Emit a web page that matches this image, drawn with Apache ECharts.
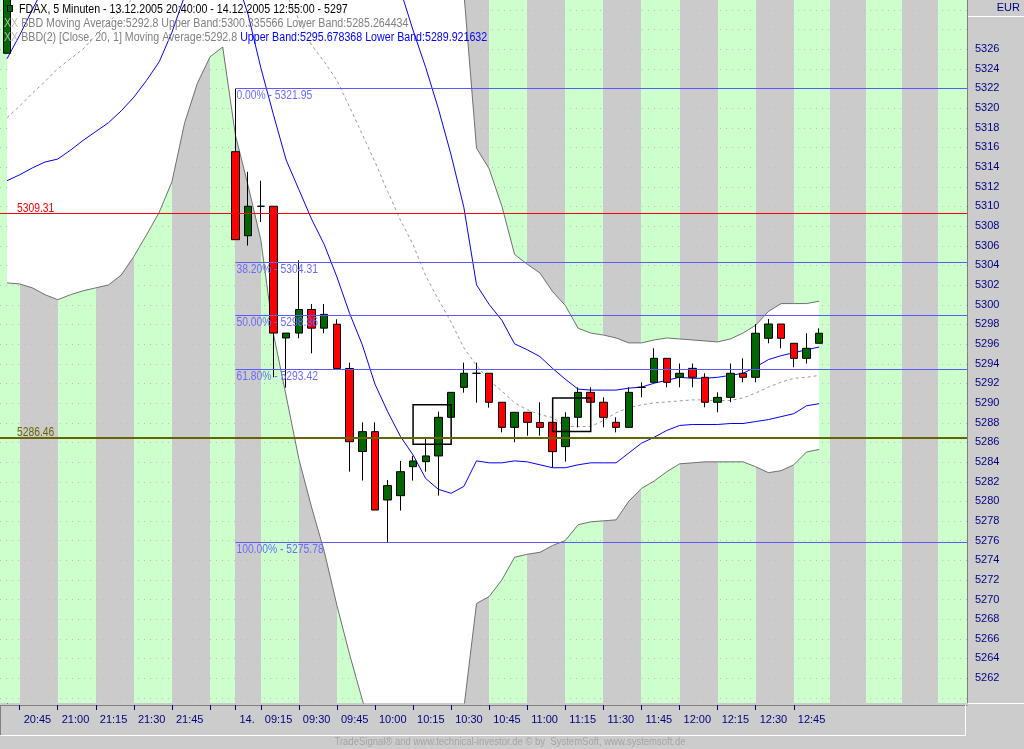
<!DOCTYPE html>
<html>
<head>
<meta charset="utf-8">
<script src="https://cdn.jsdelivr.net/npm/echarts@6/dist/echarts.min.js"></script>
<style>
html,body{margin:0;padding:0;background:#cccccc;overflow:hidden}
#chart{width:1024px;height:749px}
</style>
</head>
<body>
<div id="chart"></div>
<script>
// ---------------- data (bar index 0 = 13.12.2005 20:40, 5-minute bars) ----------------
const barOpen = [5325.56, null,null,null,null,null,null,null,null,null,null,null,null,null,null,null,null,null,
  5315.55,5307.0,5310.0,5310.0,5296.6,5297.1,5299.5,5297.6,5298.0,5293.5,
  5285.05,5287.07,5280.12,5280.56,5283.51,5284.02,5284.6,5288.53,5291.58,5293.01,
  5293.01,5290.06,5287.51,5289.04,5288.0,5288.02,5285.55,5288.53,5291.07,5290.06,
  5288.02,5287.51,5291.58,5292.09,5294.53,5292.6,5293.51,5292.6,5290.06,5290.56,
  5293.01,5292.6,5296.57,5298.02,5296.06,5294.53,5296.06];
const barClose = [5333.0, null,null,null,null,null,null,null,null,null,null,null,null,null,null,null,null,null,
  5306.6,5310.0,5310.0,5297.1,5297.1,5299.5,5297.6,5299.0,5293.5,5286.05,
  5287.07,5279.1,5281.58,5283.0,5284.09,5284.6,5288.53,5291.07,5293.01,5293.01,
  5290.06,5287.51,5289.04,5288.02,5287.51,5285.04,5288.53,5291.07,5290.06,5288.53,
  5287.51,5291.07,5291.58,5294.53,5292.09,5293.01,5292.6,5290.06,5290.56,5293.01,
  5292.6,5297.08,5298.02,5296.57,5294.53,5295.55,5297.08];
const barLow = [5325.56, null,null,null,null,null,null,null,null,null,null,null,null,null,null,null,null,null,
  5306.6,5306.0,5308.4,5292.6,5291.55,5296.57,5295.04,5297.08,5293.5,5283.0,
  5282.1,5279.1,5275.78,5279.04,5282.09,5283.0,5280.56,5288.53,5291.04,5290.02,
  5289.51,5287.0,5285.99,5286.66,5286.66,5283.44,5284.02,5287.51,5290.06,5287.51,
  5287.0,5287.51,5290.56,5292.09,5291.58,5291.58,5291.58,5289.55,5289.04,5290.06,
  5292.09,5292.09,5296.06,5295.55,5293.62,5294.0,5296.06];
const barHigh = [5334.0, null,null,null,null,null,null,null,null,null,null,null,null,null,null,null,null,null,
  5321.95,5313.5,5312.6,5310.0,5297.1,5304.5,5300.06,5300.06,5298.5,5294.09,
  5288.02,5288.02,5282.15,5284.09,5284.6,5286.46,5289.11,5291.07,5294.09,5294.09,
  5293.01,5290.06,5289.04,5289.04,5290.06,5288.02,5289.04,5291.58,5291.58,5290.56,
  5288.53,5291.58,5292.09,5295.55,5294.53,5294.0,5294.0,5293.01,5291.07,5294.0,
  5294.53,5298.02,5298.53,5298.02,5296.06,5297.08,5297.58];

// BBD (outer band, grey outline, white fill)
const outerUpper = [5336,5338,5340.5,5343,5346,5348.5,5350.5,5352.5,5354.5,5356,5357,5357.5,5357.5,5357,5356,5354.5,5353,5352,
  5356,5360,5362,5364,5366,5367,5367.5,5367.5,5367,5366,
  5364,5361,5357,5352,5347,5342,5338,5334.5,5331.8,5315.9,
  5313.8,5310.0,5305.1,5304.1,5303.2,5301.3,5299.9,5297.6,5297.1,5296.9,
  5296.6,5296.1,5296.1,5296.4,5296.6,5296.5,5296.4,5296.3,5296.2,5296.5,
  5297.1,5297.9,5299.3,5300.1,5300.1,5300.1,5300.34];
const outerLower = [5302.2,5302.1,5301.7,5301.0,5300.5,5301.0,5301.4,5301.7,5302.0,5303.0,5304.9,5307.1,5309.4,5312.5,5318.5,5322.5,5325.2,5326.2,
  5317.25,5312.1,5306.6,5297.0,5290.7,5284.3,5279.4,5274.9,5269.4,5264.4,
  5259.8,5255.5,5252.5,5250.5,5249.5,5250.0,5252.0,5255.0,5258.9,5269.6,
  5270.3,5272.0,5274.3,5274.6,5274.8,5275.5,5276.0,5277.6,5277.9,5278.0,
  5278.1,5280.0,5281.3,5282.05,5283.0,5283.8,5283.9,5284.0,5284.0,5284.0,
  5284.0,5283.5,5282.9,5283.1,5283.7,5285.0,5285.26];
const movingAverage = [5319.0,5320.2,5321.5,5322.7,5324.0,5325.0,5326.0,5327.4,5328.7,5330.0,5331.2,5332.4,5333.6,5334.8,5336.0,5337.0,5337.6,5337.8,
  5337.5,5336.6,5335.3,5333.7,5331.6,5329.0,5326.4,5324.7,5322.8,5320.1,
  5317.3,5314.5,5311.5,5308.6,5306.1,5302.9,5300.5,5298.2,5295.6,5293.8,
  5292.3,5291.2,5290.0,5289.3,5288.8,5288.5,5287.6,5287.6,5287.6,5288.2,
  5289.0,5289.5,5289.8,5290.0,5290.1,5290.2,5290.3,5290.3,5290.2,5290.25,
  5290.5,5291.0,5291.6,5292.1,5292.5,5292.6,5292.8];
// BBD(2) [Close, 20, 1] (inner band, blue)
const innerUpper = [5325.0,5327.4,5330.0,5332.5,5334.5,5336.0,5337.5,5339.0,5340.3,5341.5,5342.5,5343.3,5344.0,5344.5,5344.5,5344.0,5343.5,5343.0,
  5342.5,5343.5,5346.0,5348.0,5348.5,5347.5,5345.5,5344.0,5342.5,5341.0,
  5339.5,5337.5,5335.0,5332.0,5327.9,5324.1,5319.9,5315.2,5309.9,5302.0,
  5300.0,5298.4,5296.0,5295.4,5294.7,5293.5,5292.4,5291.4,5291.3,5291.3,
  5291.3,5291.5,5291.6,5292.0,5292.3,5292.6,5292.5,5292.5,5292.6,5292.8,
  5293.0,5293.65,5294.4,5294.8,5295.1,5295.4,5295.68];
const innerLower = [5312.6,5313.2,5313.9,5314.5,5314.8,5315.7,5316.7,5317.6,5318.5,5319.7,5321.1,5322.8,5324.7,5327.7,5331.4,5334.0,5335.5,5336.0,
  5333.5,5329.5,5324.1,5319.3,5314.7,5311.7,5308.7,5306.1,5302.8,5299.1,
  5295.9,5291.9,5289.1,5286.6,5284.7,5282.3,5281.2,5280.8,5281.5,5284.1,
  5283.9,5283.9,5284.1,5284.0,5283.7,5283.4,5283.4,5283.7,5283.9,5283.9,
  5283.9,5284.9,5285.9,5286.5,5287.2,5287.7,5287.8,5287.8,5287.8,5287.9,
  5287.9,5288.1,5288.3,5288.6,5288.9,5289.7,5289.92];

// Fibonacci retracement from the high bar (14.12. first bar) to the low
const fibStartBar = 18;
const fibPct = ['0.00%', '38.20%', '50.00%', '61.80%', '100.00%'];
const fibLevels = [5321.95, 5304.31, 5298.86, 5293.42, 5275.78];
const redLevel = 5309.31;
const oliveLevel = 5286.46;

// drawn rectangles: [fromBar, top, toBar, bottom]
const boxes = [[32, 5289.8, 35, 5285.8], [43, 5290.5, 46, 5287.1]];

// time axis ticks (bar index) and their labels
const tickBars = [1,4,7,10,13,16,18,20,23,26,29,32,35,38,41,44,47,50,53,56,59,62];
const tickLabels = ['20:45','21:00','21:15','21:30','21:45','','14.','09:15','09:30','09:45','10:00','10:15','10:30','10:45','11:00','11:15','11:30','11:45','12:00','12:15','12:30','12:45'];
// quarter-hour background stripes (bar units)
const stripeEdges = [-0.55,1,4,7,10,13,16,18,20,23,26,29,32,35,38,41,44,47,50,53,56,59,62,64.85,67.67,70.5,73.33,75.65];
// price axis
const priceTicks = [5262,5264,5266,5268,5270,5272,5274,5276,5278,5280,5282,5284,5286,5288,5290,5292,5294,5296,5298,5300,5302,5304,5306,5308,5310,5312,5314,5316,5318,5320,5322,5324,5326];
const gridLevels = [5260,5262,5264,5266,5268,5270,5272,5274,5276,5278,5280,5282,5284,5286,5288,5290,5292,5294,5296,5298,5300,5302,5304,5306,5308,5310,5312,5314,5316,5318,5320,5322,5324,5326,5328,5330];

// ---------------- build ----------------
const FONT = '"Liberation Sans", Arial, sans-serif';
const X_MIN = -0.55, X_MAX = 75.65, Y_MIN = 5259.47, Y_MAX = 5330.98;
const STRIPE_COLORS = ['#ccffcc', '#cbcbcb'];
const NARROW = 0.888;

const toXY = arr => arr.map((v, i) => [i, v]);
const stripeData = [];
for (let k = 0; k < stripeEdges.length - 1; k++) stripeData.push([stripeEdges[k], stripeEdges[k + 1], k % 2]);
const candleData = [];
barOpen.forEach((o, i) => { if (o != null) candleData.push([i, o, barClose[i], barLow[i], barHigh[i]]); });
const hlineData = fibLevels.map(v => [fibStartBar, v, 0]).concat([[X_MIN, redLevel, 1], [X_MIN, oliveLevel, 2]]);
const hlineText = fibPct.map((p, k) => p + ' - ' + fibLevels[k].toFixed(2)).concat([redLevel.toFixed(2), oliveLevel.toFixed(2)]);
const labelMap = {};
tickBars.forEach((b, k) => { labelMap[b] = tickLabels[k]; });

const chart = echarts.init(document.getElementById('chart'), null, {renderer: 'canvas'});
const option = {
  animation: false,
  backgroundColor: '#cccccc',
  grid: {left: 0, right: 57, top: 0, bottom: 46, containLabel: false},
  xAxis: {
    type: 'value', min: X_MIN, max: X_MAX, offset: 2,
    axisLine: {show: true, lineStyle: {color: '#808080', width: 1}},
    axisTick: {show: true, customValues: tickBars, length: 5, lineStyle: {color: '#000080'}},
    axisLabel: {customValues: tickBars, formatter: v => labelMap[v] || '', color: '#000080', fontSize: 11, fontFamily: FONT, align: 'left', padding: [0, 0, 0, 4], margin: 9},
    splitLine: {show: false}
  },
  yAxis: {
    type: 'value', position: 'right', min: Y_MIN, max: Y_MAX, offset: 2,
    axisLine: {show: true, lineStyle: {color: '#000000', type: [1, 2]}},
    axisTick: {show: true, customValues: priceTicks, length: 3, lineStyle: {color: '#000080'}},
    axisLabel: {customValues: priceTicks, formatter: v => String(v), color: '#000080', fontSize: 11, fontFamily: FONT, margin: 6},
    splitLine: {show: false}
  },
  series: [
    { // background quarter-hour stripes
      type: 'custom', z: 1, silent: true, clip: true, data: stripeData, encode: {x: [0, 1]},
      renderItem: (params, api) => {
        const p0 = api.coord([api.value(0), Y_MAX]);
        const p1 = api.coord([api.value(1), Y_MIN]);
        const x0 = Math.round(p0[0]), x1 = Math.round(p1[0]);
        return {type: 'rect', shape: {x: x0, y: p0[1], width: x1 - x0, height: p1[1] - p0[1]}, style: {fill: STRIPE_COLORS[api.value(2)]}};
      }
    },
    { // dotted price grid
      type: 'custom', z: 2, silent: true, clip: true, data: gridLevels.map(v => [v]), encode: {y: 0},
      renderItem: (params, api) => {
        const a = api.coord([X_MIN, api.value(0)]);
        const b = api.coord([X_MAX, api.value(0)]);
        const y = Math.round(a[1]) + 0.5;
        return {type: 'line', shape: {x1: a[0], y1: y, x2: b[0], y2: y}, style: {stroke: '#cfb2cf', lineWidth: 1, lineDash: [1, 5]}};
      }
    },
    { // white fill between outer bands
      type: 'custom', z: 3, silent: true, clip: true, data: [[0, outerLower[0]]],
      renderItem: (params, api) => {
        const pts = [];
        for (let i = 0; i < outerUpper.length; i++) pts.push(api.coord([i, outerUpper[i]]));
        for (let i = outerLower.length - 1; i >= 0; i--) pts.push(api.coord([i, outerLower[i]]));
        return {type: 'polygon', shape: {points: pts}, style: {fill: '#ffffff'}};
      }
    },
    {type: 'line', z: 4, data: toXY(outerUpper), showSymbol: false, symbol: 'none', silent: true, lineStyle: {color: '#707070', width: 1}},
    {type: 'line', z: 4, data: toXY(outerLower), showSymbol: false, symbol: 'none', silent: true, lineStyle: {color: '#707070', width: 1}},
    {type: 'line', z: 4, data: toXY(movingAverage), showSymbol: false, symbol: 'none', silent: true, lineStyle: {color: '#9a9a9a', width: 1, type: [3, 3]}},
    {type: 'line', z: 4, data: toXY(innerUpper), showSymbol: false, symbol: 'none', silent: true, lineStyle: {color: '#0000ff', width: 1}},
    {type: 'line', z: 4, data: toXY(innerLower), showSymbol: false, symbol: 'none', silent: true, lineStyle: {color: '#0000ff', width: 1}},
    {
      type: 'candlestick', z: 5, data: candleData, encode: {x: 0, y: [1, 2, 3, 4]}, barWidth: 8, silent: true,
      itemStyle: {color: '#006600', color0: '#ff0000', borderColor: '#000000', borderColor0: '#000000', borderColorDoji: '#000000', borderWidth: 1}
    },
    { // drawn rectangles
      type: 'custom', z: 6, silent: true, clip: true, data: boxes, encode: {x: [0, 2], y: [1, 3]},
      renderItem: (params, api) => {
        const a = api.coord([api.value(0), api.value(1)]);
        const b = api.coord([api.value(2), api.value(3)]);
        return {type: 'rect', shape: {x: a[0], y: a[1], width: b[0] - a[0], height: b[1] - a[1]}, style: {fill: 'none', stroke: '#000000', lineWidth: 1.5}};
      }
    },
    { // horizontal level lines with labels
      type: 'custom', z: 7, silent: true, clip: true, data: hlineData, encode: {x: 0, y: 1},
      renderItem: (params, api) => {
        const kind = api.value(2), v = api.value(1);
        const a = api.coord([api.value(0), v]);
        const b = api.coord([X_MAX, v]);
        const col = ['#5a5aff', '#ff0000', '#666600'][kind];
        const tcol = ['#6a6aff', '#ff0000', '#666600'][kind];
        const lw = kind === 2 ? 2 : 1;
        const y = kind === 2 ? Math.round(a[1]) : Math.floor(a[1]) + 0.5;
        const text = hlineText[params.dataIndex];
        const label = kind === 0
          ? {type: 'text', x: a[0] + 1, y: y + 1.5, scaleX: 0.86, style: {text, fill: tcol, font: '12px ' + FONT, align: 'left', textAlign: 'left', verticalAlign: 'top', textVerticalAlign: 'top'}}
          : {type: 'text', x: a[0] + 17, y: y + 1, scaleX: 0.86, style: {text, fill: tcol, font: '12px ' + FONT, align: 'left', textAlign: 'left', verticalAlign: 'bottom', textVerticalAlign: 'bottom'}};
        return {type: 'group', children: [
          {type: 'line', shape: {x1: a[0], y1: y, x2: b[0], y2: y}, style: {stroke: col, lineWidth: lw}},
          label
        ]};
      }
    }
  ],
  graphic: [
    // plot / axis panel borders
    {type: 'line', z: 100, silent: true, shape: {x1: 967.5, y1: 0, x2: 967.5, y2: 703}, style: {stroke: '#808080', lineWidth: 1}},
    {type: 'rect', z: 100, silent: true, shape: {x: 968, y: 0, width: 56, height: 16}, style: {fill: '#cccccc'}},
    {type: 'line', z: 101, silent: true, shape: {x1: 968, y1: 16.5, x2: 1024, y2: 16.5}, style: {stroke: '#ffffff', lineWidth: 1}},
    {type: 'text', z: 101, silent: true, x: 1020, y: 8, style: {text: 'EUR', fill: '#000080', font: '11px ' + FONT, align: 'right', textAlign: 'right', verticalAlign: 'middle', textVerticalAlign: 'middle'}},
    {type: 'line', z: 100, silent: true, shape: {x1: 968, y1: 703.5, x2: 1024, y2: 703.5}, style: {stroke: '#ffffff', lineWidth: 1}},
    {type: 'line', z: 100, silent: true, shape: {x1: 0.5, y1: 705, x2: 0.5, y2: 736}, style: {stroke: '#808080', lineWidth: 1}},
    {type: 'line', z: 100, silent: true, shape: {x1: 0, y1: 735.5, x2: 966, y2: 735.5}, style: {stroke: '#ffffff', lineWidth: 1}},
    {type: 'line', z: 100, silent: true, shape: {x1: 965.5, y1: 705, x2: 965.5, y2: 736}, style: {stroke: '#ffffff', lineWidth: 1}},
    // legend
    {type: 'rect', z: 100, silent: true, shape: {x: 7.5, y: 5.5, width: 5, height: 6}, style: {fill: '#006600', stroke: '#000000', lineWidth: 1}},
    {type: 'text', z: 100, silent: true, x: 19, y: 10, scaleX: NARROW, style: {text: 'FDAX, 5 Minuten - 13.12.2005 20:40:00 - 14.12.2005 12:55:00 - 5297', fill: '#000000', font: '12px ' + FONT, verticalAlign: 'middle', textVerticalAlign: 'middle'}},
    {type: 'text', z: 100, silent: true, x: 4, y: 24, scaleX: NARROW, style: {
      text: '{l|XX} {g|BBD Moving Average:5292.8 Upper Band:5300.335566 Lower Band:5285.264434}',
      font: '12px ' + FONT, verticalAlign: 'middle', textVerticalAlign: 'middle',
      rich: {l: {fill: '#b4bcb4', font: '12px ' + FONT}, g: {fill: '#808080', font: '12px ' + FONT}}}},
    {type: 'text', z: 100, silent: true, x: 4, y: 38, scaleX: NARROW, style: {
      text: '{l|XX} {g|BBD(2) [Close, 20, 1] Moving Average:5292.8} {b|Upper Band:5295.678368 Lower Band:5289.921632}',
      font: '12px ' + FONT, verticalAlign: 'middle', textVerticalAlign: 'middle',
      rich: {l: {fill: '#b4bcb4', font: '12px ' + FONT}, g: {fill: '#808080', font: '12px ' + FONT}, b: {fill: '#0000ff', font: '12px ' + FONT}}}},
    // footer
    {type: 'text', z: 100, silent: true, x: 510, y: 742, scaleX: 0.95, style: {text: 'TradeSignal\u00ae and www.technical-investor.de \u00a9 by  SystemSoft, www.systemsoft.de', fill: '#a4a4a4', font: '10px ' + FONT, align: 'center', textAlign: 'center', verticalAlign: 'middle', textVerticalAlign: 'middle'}}
  ]
};
chart.setOption(option);
</script>
</body>
</html>
